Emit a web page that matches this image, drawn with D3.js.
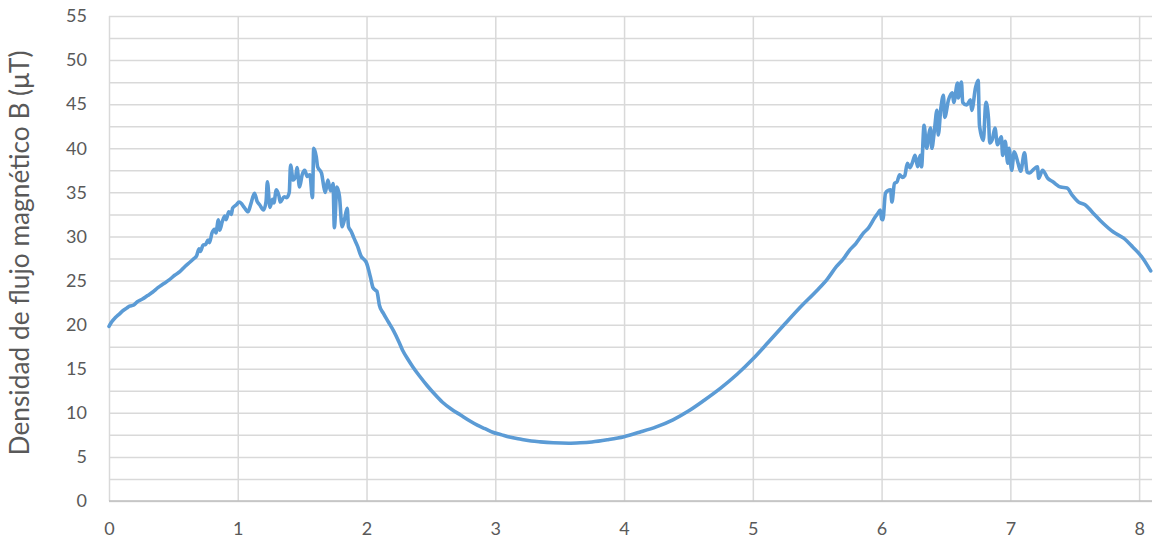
<!DOCTYPE html>
<html>
<head>
<meta charset="utf-8">
<script src="https://cdn.jsdelivr.net/npm/d3@7"></script>
<style>
  html, body { margin: 0; padding: 0; background: #fff; }
  svg { display: block; }
  .tick text { font-family: Lato, "Open Sans", sans-serif; fill: #595959; }
</style>
</head>
<body>
<svg id="chart" width="1153" height="544"></svg>
<script>
// ---- Data ----
const distance = [
  0.00,0.02,0.05,0.08,0.11,0.14,0.16,0.19,0.22,0.26,0.30,0.34,0.38,0.42,0.47,0.51,0.55,0.59,0.63,0.66,
  0.68,0.70,0.71,0.73,0.75,0.77,0.78,0.80,0.82,0.83,0.85,0.86,0.88,0.90,0.91,0.93,0.95,0.96,0.99,1.01,
  1.03,1.05,1.08,1.10,1.13,1.15,1.17,1.20,1.22,1.23,1.25,1.27,1.28,1.30,1.32,1.33,1.36,1.38,1.40,1.41,
  1.43,1.45,1.46,1.48,1.50,1.52,1.54,1.56,1.58,1.59,1.61,1.62,1.65,1.67,1.68,1.70,1.72,1.73,1.74,1.75,
  1.77,1.79,1.81,1.83,1.85,1.86,1.88,1.90,1.93,1.96,1.98,2.00,2.03,2.05,2.07,2.08,2.10,2.13,2.17,2.21,
  2.25,2.28,2.32,2.36,2.41,2.47,2.53,2.59,2.66,2.73,2.80,2.86,2.92,2.98,3.05,3.11,3.20,3.28,3.35,3.45,
  3.57,3.66,3.75,3.87,4.00,4.12,4.25,4.38,4.50,4.62,4.75,4.88,5.00,5.12,5.25,5.37,5.50,5.58,5.65,5.70,
  5.755,5.80,5.83,5.86,5.90,5.95,5.97,5.99,6.00,6.01,6.03,6.05,6.07,6.08,6.10,6.12,6.14,6.16,6.18,6.20,
  6.22,6.24,6.26,6.28,6.30,6.31,6.33,6.35,6.37,6.38,6.39,6.41,6.43,6.44,6.46,6.48,6.49,6.52,6.55,6.56,
  6.59,6.595,6.62,6.63,6.66,6.69,6.70,6.73,6.75,6.76,6.79,6.81,6.83,6.84,6.86,6.88,6.90,6.93,6.94,6.96,
  6.98,6.99,7.01,7.03,7.06,7.08,7.11,7.13,7.15,7.18,7.21,7.22,7.25,7.29,7.33,7.39,7.44,7.48,7.53,7.58,
  7.64,7.72,7.80,7.88,7.95,8.02,8.09
];
const fluxDensity = [
  19.8,20.3,20.8,21.2,21.6,21.9,22.1,22.2,22.6,22.9,23.3,23.7,24.2,24.6,25.1,25.6,26.0,26.6,27.1,27.5,
  27.8,28.6,28.3,29.0,29.1,29.6,29.3,30.4,30.8,30.4,31.9,30.7,31.7,32.3,31.9,32.8,32.5,33.2,33.6,33.9,
  33.7,33.3,32.8,33.6,34.9,34.0,33.6,33.0,34.0,36.2,33.3,34.2,33.8,35.3,34.6,33.9,34.5,34.4,35.0,38.1,
  36.4,36.8,37.8,35.6,37.0,37.5,36.8,37.0,34.4,40.0,39.0,37.9,37.2,35.5,35.0,36.4,35.2,35.3,36.0,31.0,
  35.6,34.5,31.1,32.0,33.2,31.1,30.6,29.9,28.9,27.7,27.4,27.0,25.4,24.2,23.9,23.8,22.2,21.3,20.3,19.3,
  18.1,17.1,16.1,15.2,14.2,13.1,12.1,11.2,10.4,9.75,9.1,8.6,8.2,7.8,7.5,7.25,7.0,6.8,6.7,6.6,
  6.55,6.6,6.7,6.95,7.3,7.8,8.4,9.2,10.2,11.4,12.8,14.4,16.1,18.0,20.1,22.0,23.9,25.2,26.6,27.4,
  28.5,29.2,29.8,30.4,31.0,32.2,32.6,33.0,32.0,31.9,34.9,35.2,35.3,33.9,36.0,36.2,37.0,36.7,36.9,38.3,
  37.8,38.4,39.2,37.9,39.2,37.9,42.6,40.0,41.8,42.3,40.0,42.0,44.3,41.5,44.5,46.0,43.5,45.5,46.3,45.2,
  47.4,45.7,47.5,45.2,44.9,45.5,44.3,46.9,47.7,42.6,40.9,45.2,43.4,40.6,41.0,42.3,40.4,41.3,39.2,40.8,
  38.3,40.0,37.5,39.6,38.3,37.4,39.5,37.3,37.2,37.6,37.9,36.6,37.5,36.6,36.2,35.6,35.5,34.7,33.9,33.6,
  32.7,31.5,30.5,29.8,28.8,27.7,26.1
];
const xTicks = [0,1,2,3,4,5,6,7,8];
const yTicks = [0,5,10,15,20,25,30,35,40,45,50,55];
const yGridTicks = [0,2.5,5,7.5,10,12.5,15,17.5,20,22.5,25,27.5,30,32.5,35,37.5,40,42.5,45,47.5,50,52.5,55];
const yTitle = "Densidad de flujo magnético B (μT)";

// ---- Layout ----
const svg = d3.select("#chart");
const pLeft = 109, pRight = 1152, pTop = 16, pBottom = 501;
const x = d3.scaleLinear().domain([0, 8.1]).range([pLeft, pRight]);
const y = d3.scaleLinear().domain([0, 55]).range([pBottom, pTop]);

// horizontal gridlines
svg.append("g")
  .attr("transform", `translate(${pLeft},0)`)
  .call(d3.axisLeft(y).tickValues(yGridTicks).tickSize(-(pRight - pLeft)).tickFormat(""))
  .call(g => g.select(".domain").remove())
  .call(g => g.selectAll("line").attr("stroke", "#d9d9d9").attr("stroke-width", 1.5));

// vertical gridlines
svg.append("g")
  .attr("transform", `translate(0,${pBottom})`)
  .call(d3.axisBottom(x).tickValues(xTicks).tickSize(-(pBottom - pTop)).tickFormat(""))
  .call(g => g.select(".domain").remove())
  .call(g => g.selectAll("line").attr("stroke", "#d9d9d9").attr("stroke-width", 1.5));

// bottom axis line
svg.append("line")
  .attr("x1", pLeft).attr("x2", pRight)
  .attr("y1", y(0)).attr("y2", y(0))
  .attr("stroke", "#bfbfbf").attr("stroke-width", 1.5);

// y tick labels
svg.append("g")
  .attr("transform", `translate(${pLeft},0)`)
  .call(d3.axisLeft(y).tickValues(yTicks).tickSize(0).tickPadding(22).tickFormat(d3.format("d")))
  .call(g => g.select(".domain").remove())
  .call(g => g.selectAll("text").style("font-size", "18px").attr("fill", "#595959"));

// x tick labels
svg.append("g")
  .attr("transform", `translate(0,${pBottom})`)
  .call(d3.axisBottom(x).tickValues(xTicks).tickSize(0).tickPadding(21).tickFormat(d3.format("d")))
  .call(g => g.select(".domain").remove())
  .call(g => g.selectAll("text").style("font-size", "18px").attr("fill", "#595959"));

// y axis title
const title = svg.append("text")
  .attr("transform", "translate(29,253) rotate(-90)")
  .attr("text-anchor", "middle")
  .style("font-family", "Lato, 'Open Sans', sans-serif")
  .style("font-size", "20px")
  .attr("fill", "#595959")
  .text(yTitle);
const len = title.node().getComputedTextLength();
title.style("font-size", (20 * 405 / len).toFixed(2) + "px");

// data line
const pts = distance.map((d, i) => [d, fluxDensity[i]]);
svg.append("path")
  .datum(pts)
  .attr("fill", "none")
  .attr("stroke", "#5B9BD5")
  .attr("stroke-width", 3.6)
  .attr("stroke-linejoin", "round")
  .attr("stroke-linecap", "round")
  .attr("d", d3.line().curve(d3.curveMonotoneX).x(d => x(d[0])).y(d => y(d[1])));
</script>
</body>
</html>
